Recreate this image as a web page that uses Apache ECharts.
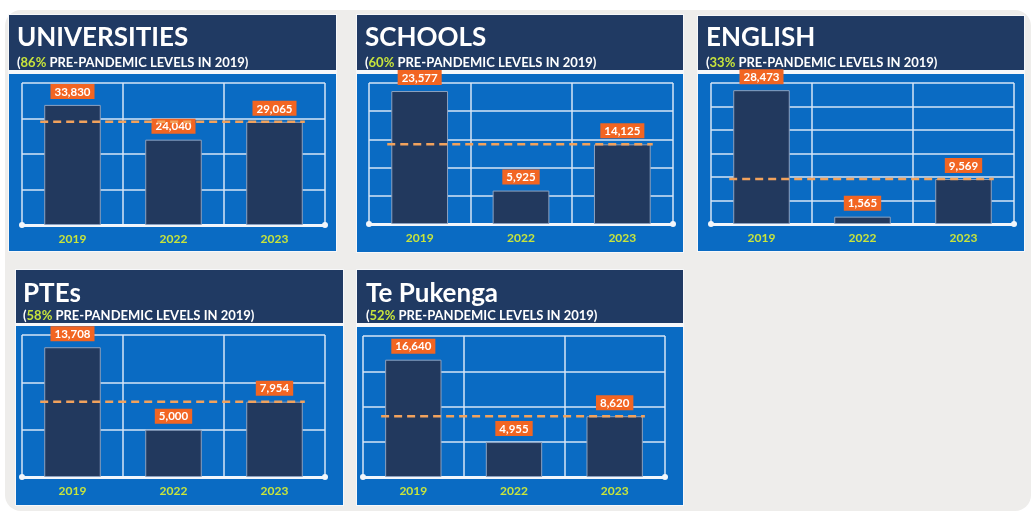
<!DOCTYPE html>
<html><head><meta charset="utf-8">
<script src="https://cdn.jsdelivr.net/npm/echarts@6/dist/echarts.min.js"></script>
<style>html,body{margin:0;padding:0;background:#fff}#c{width:1036px;height:516px}</style>
</head><body><div id="c"></div>
<script>
// ---- data ----
const panelNames = ['UNIVERSITIES', 'SCHOOLS', 'ENGLISH', 'PTEs', 'Te Pukenga'];
const percentLabels = ['86%', '60%', '33%', '58%', '52%'];
const subtitleRest = ' PRE-PANDEMIC LEVELS IN 2019)';
const years = ['2019', '2022', '2023'];
const universities = [33830, 24040, 29065];
const schools = [23577, 5925, 14125];
const english = [28473, 1565, 9569];
const ptes = [13708, 5000, 7954];
const tePukenga = [16640, 4955, 8620];
const axisMax = [40000, 25000, 30000, 15000, 20000];
const axisInterval = [10000, 5000, 5000, 5000, 5000];

const seriesValues = [universities, schools, english, ptes, tePukenga];

// ---- layout / style ----
const layout = [
  {x: 9,   w: 327, hy: 15,  hh: 55, by: 74,  bh: 177, g: {left: 22,  top: 83,  width: 303, height: 142}, tx: 17,  ty: 25,  gap: 5},
  {x: 357, w: 326, hy: 15,  hh: 55, by: 74,  bh: 178, g: {left: 369, top: 83,  width: 304, height: 141}, tx: 365, ty: 25,  gap: 5},
  {x: 698, w: 326, hy: 16,  hh: 54, by: 74,  bh: 177, g: {left: 711, top: 83,  width: 303, height: 141}, tx: 706, ty: 25,  gap: 5},
  {x: 16,  w: 327, hy: 270, hh: 53, by: 326, bh: 179, g: {left: 22,  top: 335, width: 303, height: 142}, tx: 23,  ty: 281, gap: 2},
  {x: 357, w: 326, hy: 270, hh: 53, by: 327, bh: 178, g: {left: 363, top: 336, width: 302, height: 141}, tx: 366, ty: 281, gap: 2}
];
const NAVY = '#203a63';
const BLUE = '#0a6bc3';
const BAR = '#22395e';
const ORANGE = '#f26522';
const DASH = '#f2a25c';
const GRIDLINE = '#d6e5f6';
const YEARCOL = '#c8e43c';
const FONT = 'Lato, "Open Sans", sans-serif';
const DASH_FROM = -0.32, DASH_TO = 0.30;

const chart = echarts.init(document.getElementById('c'), null, {renderer: 'canvas'});

const graphics = [{
  type: 'rect', z: -20, silent: true,
  shape: {x: 5, y: 10, width: 1026, height: 501, r: 16},
  style: {fill: '#eeedeb'}
}];
const grids = [], xAxes = [], yAxes = [], series = [], titles = [];

layout.forEach((L, i) => {
  graphics.push({type: 'rect', z: -15, silent: true,
    shape: {x: L.x - 1, y: L.hy - 1, width: L.w + 2, height: L.by + L.bh - L.hy + 2},
    style: {fill: '#f7f8fa'}});
  graphics.push({type: 'rect', z: -12, silent: true,
    shape: {x: L.x, y: L.hy, width: L.w, height: L.hh}, style: {fill: NAVY}});
  graphics.push({type: 'rect', z: -12, silent: true,
    shape: {x: L.x, y: L.by, width: L.w, height: L.bh}, style: {fill: BLUE}});

  titles.push({
    text: panelNames[i],
    subtext: '{p|(}{y|' + percentLabels[i] + '}{p|' + subtitleRest + '}',
    left: L.tx, top: L.ty, padding: 0, itemGap: L.gap,
    textStyle: {color: '#ffffff', fontSize: 26, fontWeight: 'bold', fontFamily: FONT},
    subtextStyle: {
      fontSize: 13, fontWeight: 'bold', fontFamily: FONT, color: '#fff',
      rich: {
        p: {color: '#ffffff', fontSize: 13, fontWeight: 'bold', fontFamily: FONT},
        y: {color: YEARCOL, fontSize: 13, fontWeight: 'bold', fontFamily: FONT}
      }
    }
  });

  grids.push(Object.assign({containLabel: false}, L.g));

  xAxes.push({
    type: 'category', gridIndex: i, data: years,
    axisLine: {show: true, lineStyle: {color: '#f2f6fb', width: 3}, symbol: ['circle', 'circle'], symbolSize: [6, 6]},
    axisTick: {show: false},
    splitLine: {show: true, lineStyle: {color: GRIDLINE, width: 1.5}},
    axisLabel: {color: YEARCOL, fontWeight: 'bold', fontSize: 12, fontFamily: FONT, margin: 8}
  });
  xAxes.push({type: 'value', gridIndex: i, show: false, min: -0.5, max: years.length - 0.5});

  yAxes.push({
    type: 'value', gridIndex: i, min: 0, max: axisMax[i], interval: axisInterval[i],
    axisLine: {show: false}, axisTick: {show: false}, axisLabel: {show: false},
    splitLine: {show: true, lineStyle: {color: GRIDLINE, width: 1.5}}
  });

  const vals = seriesValues[i];
  series.push({
    type: 'bar', xAxisIndex: 2 * i, yAxisIndex: i, data: vals, barWidth: '56%', z: 2,
    itemStyle: {color: BAR, borderColor: '#8da2c0', borderWidth: 1},
    label: {
      show: true, position: 'top', distance: 6,
      formatter: p => p.value.toLocaleString('en-US'),
      color: '#ffffff', fontWeight: 'bold', fontSize: 11.5, fontFamily: FONT,
      backgroundColor: ORANGE, padding: [2, 4, 1, 4]
    }
  });
  const ref = vals[vals.length - 1];
  series.push({
    type: 'line', xAxisIndex: 2 * i + 1, yAxisIndex: i, z: 3, symbol: 'none', silent: true,
    data: [[DASH_FROM, ref], [vals.length - 1 + DASH_TO, ref]],
    lineStyle: {color: DASH, width: 2.5, type: [8, 5]}
  });
});

chart.setOption({
  animation: false,
  backgroundColor: '#ffffff',
  graphic: {elements: graphics},
  title: titles,
  grid: grids,
  xAxis: xAxes,
  yAxis: yAxes,
  series: series
});
</script>
</body></html>
